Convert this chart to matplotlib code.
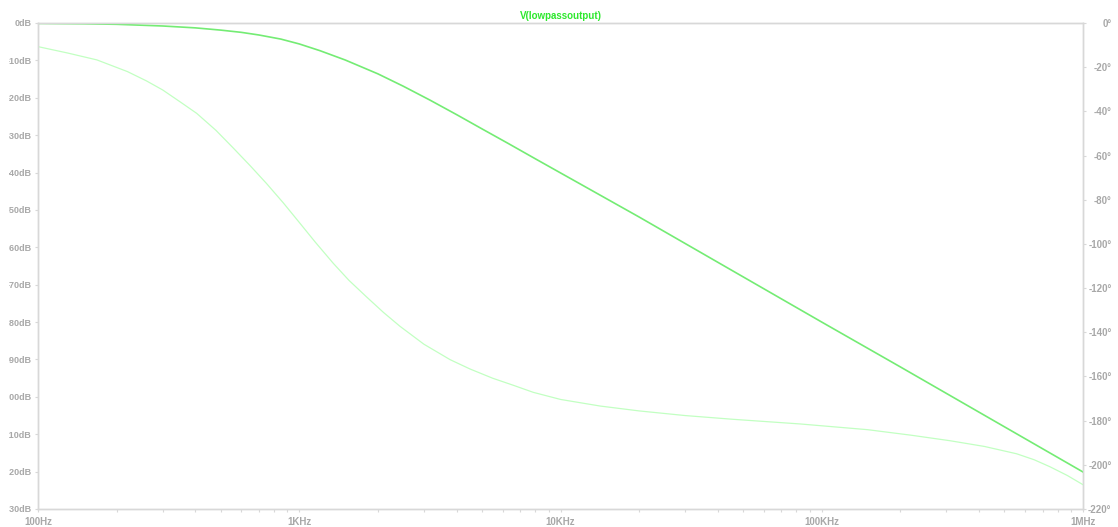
#%% Imports
import numpy as np
import matplotlib.pyplot as plt
from matplotlib.ticker import FixedLocator, NullFormatter
from matplotlib.transforms import Bbox, TransformedBbox

# Params:
_TRACE = 'V(lowpassoutput)'

# Magnitude trace (Hz, dB)
mag_freq = [100, 150, 200, 300, 400, 500, 600, 700, 850, 1000, 1200, 1500,
            2000, 2500, 3160, 4000, 5000, 6300, 8000, 10000, 12000, 20000,
            50000, 100000, 200000, 500000, 1000000]
mag_db   = [-0.1, -0.2, -0.35, -0.8, -1.3, -1.9, -2.5, -3.2, -4.3, -5.6,
            -7.4, -9.9, -13.6, -16.9, -20.6, -24.5, -28.3, -32.2, -36.3,
            -40.1, -43.2, -51.9, -67.9, -80.0, -92.0, -108.0, -120.1]

# Phase trace (Hz, deg)
ph_freq = [100, 130, 168, 220, 260, 300, 350, 405, 480, 558, 650, 750, 870,
           1007, 1150, 1350, 1550, 1810, 2100, 2430, 3000, 3780, 4500, 5500,
           6600, 7870, 10000, 14200, 20000, 30000, 45800, 82600, 150000,
           220000, 310000, 420000, 557000, 650000, 748000, 870000, 1000000]
ph_deg  = [-10.7, -13.6, -16.7, -22.0, -26.2, -30.3, -35.7, -40.9, -48.6,
           -56.5, -64.7, -72.7, -81.5, -90.7, -99.1, -108.8, -116.5, -124.0,
           -131.0, -137.3, -145.4, -152.4, -156.6, -160.8, -164.0, -167.2,
           -170.4, -173.4, -175.6, -177.7, -179.4, -181.5, -184.1, -186.6,
           -189.1, -191.7, -195.0, -197.7, -200.9, -204.8, -209.0]

# Axis ticks
x_ticks   = [1e2, 1e3, 1e4, 1e5, 1e6]
x_labels  = ['100Hz', '1KHz', '10KHz', '100KHz', '1MHz']
db_ticks  = list(range(0, -140, -10))
deg_ticks = list(range(0, -240, -20))

# Plotting params:
W, H     = 1118, 527
grey     = '#a8a8a8'
frame    = '#d8d8d8'
mag_col  = '#74ec74'
ph_col   = '#c2ffc2'

plt.rcParams['font.family'] = ['Liberation Sans', 'DejaVu Sans']

#%% Bode plot
fig = plt.figure(figsize=(W / 100, H / 100), dpi=100)
ax = fig.add_axes([38 / W, 1 - 509 / H, (1083 - 38) / W, (509 - 23) / H])
ax2 = ax.twinx()

ax.plot(mag_freq, mag_db, color=mag_col, lw=1.2, zorder=3)
ax2.plot(ph_freq, ph_deg, color=ph_col, lw=0.9, zorder=2)

ax.set_xscale('log')
ax.set_xlim(1e2, 1e6)
ax.set_ylim(-130, 0)
ax2.set_ylim(-220, 0)

ax.xaxis.set_major_locator(FixedLocator(x_ticks))
ax.set_xticklabels(x_labels)
minor = [m * d for d in x_ticks[:-1] for m in range(2, 10)]
ax.xaxis.set_minor_locator(FixedLocator(minor))
ax.xaxis.set_minor_formatter(NullFormatter())

ax.set_yticks(db_ticks)
ax.set_yticklabels([f'{v}dB' for v in db_ticks])
ax2.set_yticks(deg_ticks)
ax2.set_yticklabels([f'{v}\u00b0' for v in deg_ticks])

for a in (ax, ax2):
    for s in a.spines.values():
        s.set_color(frame)
        s.set_linewidth(1.0)
    a.tick_params(which='both', colors=frame, labelcolor=grey,
                  labelsize=6.5, length=2.5, width=0.8, pad=2)
    for lbl in a.get_xticklabels() + a.get_yticklabels():
        lbl.set_fontweight('bold')

ax.tick_params(axis='x', labelsize=7, pad=3)
ax2.tick_params(axis='y', labelsize=7, pad=18)
for lbl in ax2.get_yticklabels():
    lbl.set_horizontalalignment('right')

# dB labels are cut off at the left margin
clip = TransformedBbox(Bbox([[9 / W, 0], [40 / W, 1]]), fig.transFigure)
for tick in ax.yaxis.get_major_ticks():
    tick.label1.set_clip_box(clip)
    tick.label1.set_clip_on(True)

ax.set_title(_TRACE, color='#2ee82e', fontsize=7, fontweight='bold', pad=3)

fig.savefig('out.png', dpi=100)
